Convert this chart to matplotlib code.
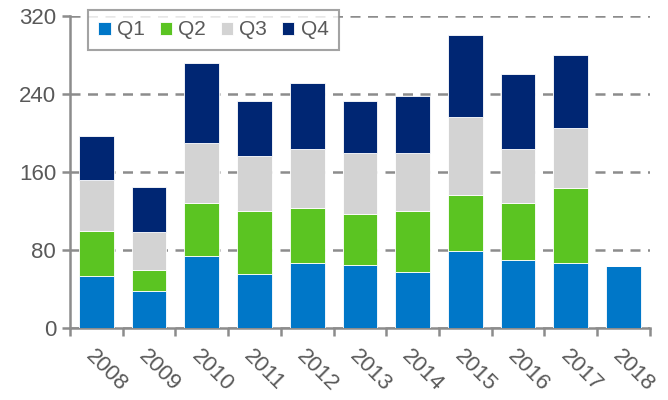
import numpy as np
import matplotlib
matplotlib.use('Agg')
import matplotlib.pyplot as plt

plt.rcParams['font.family'] = ['Liberation Sans', 'DejaVu Sans']

years = ['2008', '2009', '2010', '2011', '2012', '2013',
         '2014', '2015', '2016', '2017', '2018']
q1 = [53, 38, 74, 55, 67, 65, 57, 79, 70, 67, 64]
q2 = [46, 21, 54, 65, 56, 52, 63, 57, 58, 77, 0]
q3 = [53, 39, 62, 56, 61, 62, 59, 80, 56, 61, 0]
q4 = [45, 47, 82, 57, 67, 54, 59, 84, 76, 75, 0]

series = [('Q1', q1, '#0077c8'), ('Q2', q2, '#5bc422'),
          ('Q3', q3, '#d3d3d3'), ('Q4', q4, '#002673')]

grey = '#8c8c8c'
txt = '#595959'

fig = plt.figure(figsize=(6.68, 4.0), dpi=100)
ax = fig.add_axes([0.1048, 0.18, 0.868, 0.78])

x = np.arange(len(years))
bottom = np.zeros(len(years))
for name, vals, col in series:
    vals = np.array(vals, dtype=float)
    ax.bar(x, vals, 0.66, bottom=bottom, color=col, label=name,
           edgecolor='white', linewidth=0.6, zorder=3)
    bottom += vals

ax.set_xlim(-0.5, len(years) - 0.5)
ax.set_ylim(0, 320)
ax.set_yticks([0, 80, 160, 240, 320])
ax.yaxis.grid(True, color=grey, linestyle=(0, (4, 3)), linewidth=1.8, zorder=0)

# boundary ticks, labels centred under the bars
ax.set_xticks(np.arange(-0.5, len(years), 1.0))
ax.set_xticklabels([])
ax.set_xticks(x, minor=True)
ax.set_xticklabels(years, minor=True, rotation=-45, ha='left', va='top',
                   rotation_mode='anchor', fontsize=16, color=txt)
ax.tick_params(axis='x', which='minor', length=0, pad=13)
ax.tick_params(axis='x', which='major', length=6, width=1.8, color=grey)
ax.tick_params(axis='y', length=6, width=1.8, color=grey, labelsize=16,
               labelcolor=txt, pad=4)

for s in ['top', 'right']:
    ax.spines[s].set_visible(False)
for s in ['left', 'bottom']:
    ax.spines[s].set_color(grey)
    ax.spines[s].set_linewidth(1.8)

leg = ax.legend(loc='upper left', bbox_to_anchor=(0.031, 1.019), ncol=4,
                fontsize=15, frameon=True, fancybox=False, borderaxespad=0,
                handlelength=0.6, handleheight=0.6, handletextpad=0.3,
                columnspacing=0.7, borderpad=0.5, labelcolor=txt)
leg.get_frame().set_edgecolor(grey)
leg.get_frame().set_linewidth(1.5)
leg.set_zorder(5)

fig.savefig('out.png', dpi=100)
